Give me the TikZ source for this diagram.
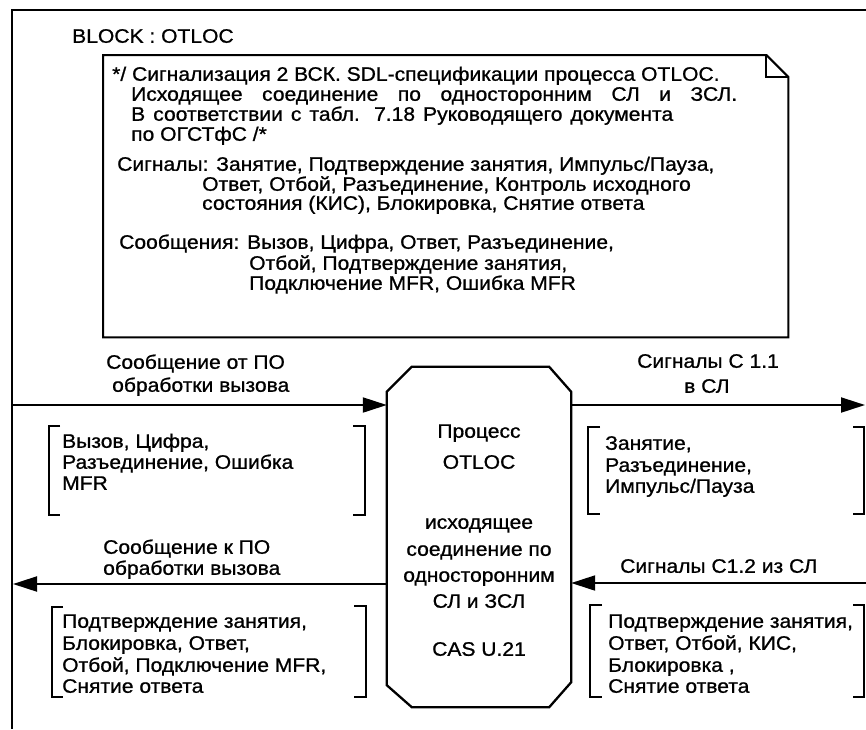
\documentclass[tikz,border=0pt]{standalone}
\usepackage{fontspec}
\setmainfont{Liberation Sans}[FakeStretch=1.08,FakeBold=0.9]
\usetikzlibrary{arrows.meta}
\begin{document}
\begin{tikzpicture}[x=1pt,y=-1pt,
  txt/.style={anchor=west, inner sep=0pt, text height=13.5pt, text depth=4pt, font=\fontsize{19.5}{21}\selectfont},
  ctxt/.style={txt, anchor=center},
  frame/.style={line width=2pt},
  arr/.style={line width=2pt, -{Triangle[length=24pt,width=15pt]}},
  brk/.style={line width=2pt}]
\useasboundingbox (0,0) rectangle (866,729);
% outer block frame
\coordinate (fTL) at (12,10);
\coordinate (fTR) at (866,10);
\coordinate (fBL) at (12,729);
\draw[frame] (fTR) -- (fTL) -- (fBL);
\node[txt] (blk) at (72,38) {BLOCK : OTLOC};
% comment box
\node[inner sep=0pt, minimum width=685pt, minimum height=282pt, anchor=north west] (note) at (103,55) {};
\draw[frame] (note.north west) -- ([xshift=-22pt]note.north east) -- ([yshift=-22pt]note.north east) -- (note.south east) -- (note.south west) -- cycle;
\draw[frame] ([xshift=-22pt]note.north east) -- ([xshift=-22pt,yshift=-22pt]note.north east) -- ([yshift=-22pt]note.north east);
\node[txt] (c1) at (112,76) {*/ Сигнализация 2 ВСК. SDL-спецификации процесса OTLOC.};
\node[txt] (c2) at (131,96) {\makebox[606pt][s]{Исходящее соединение по односторонним СЛ и ЗСЛ.}};
\node[txt] (c3) at (131,116) {\makebox[542pt][s]{В соответствии с табл. 7.18 Руководящего документа}};
\node[txt] (c4) at (131,136) {по ОГСТфС /*};
\node[txt] (c5) at (117,166) {Сигналы: Занятие, Подтверждение занятия, Импульс/Пауза,};
\node[txt] (c6) at (202,186) {Ответ, Отбой, Разъединение, Контроль исходного};
\node[txt] (c7) at (202,205) {состояния (КИС), Блокировка, Снятие ответа};
\node[txt] (c8) at (119,244) {Сообщения: Вызов, Цифра, Ответ, Разъединение,};
\node[txt] (c9) at (249,265) {Отбой, Подтверждение занятия,};
\node[txt] (c10) at (249,285) {Подключение MFR, Ошибка MFR};
% process octagon
\node[inner sep=0pt, minimum width=184pt, minimum height=340pt] (proc) at (479,537) {};
\draw[line width=2.3pt] ([xshift=25pt]proc.north west) -- ([xshift=-22pt]proc.north east) -- ([yshift=-25pt]proc.north east) -- ([yshift=25pt]proc.south east) -- ([xshift=-22pt]proc.south east) -- ([xshift=25pt]proc.south west) -- ([yshift=22pt]proc.south west) -- ([yshift=-25pt]proc.north west) -- cycle;
\node[ctxt] (p1) at (479,433) {Процесс};
\node[ctxt] (p2) at (479,464) {OTLOC};
\node[ctxt] (p3) at (479,524) {исходящее};
\node[ctxt] (p4) at (479,551) {соединение по};
\node[ctxt] (p5) at (479,577) {односторонним};
\node[ctxt] (p6) at (479,603) {СЛ и ЗСЛ};
\node[ctxt] (p7) at (479,651) {CAS U.21};
% connectors
\coordinate (inL) at (12,405);
\coordinate (outR) at (865,405);
\coordinate (outL) at (13,584);
\coordinate (inR) at (866,583);
\draw[arr] (inL) -- (proc.west |- inL);
\draw[arr] (proc.east |- outR) -- (outR);
\draw[arr] (proc.west |- outL) -- (outL);
\draw[arr] (inR) -- (proc.east |- inR);
% arrow labels
\node[txt] (l1a) at (106,364) {Сообщение от ПО};
\node[txt] (l1b) at (112,387) {обработки вызова};
\node[txt] (l2a) at (637,363) {Сигналы С 1.1};
\node[txt] (l2b) at (684,388) {в СЛ};
\node[txt] (l3a) at (103,549) {Сообщение к ПО};
\node[txt] (l3b) at (103,570) {обработки вызова};
\node[txt] (l4a) at (620,568) {Сигналы С1.2 из СЛ};
% bracket lists
\draw[brk] (60,426) -- (49,426) -- (49,515) -- (60,515);
\draw[brk] (353,426) -- (365,426) -- (365,515) -- (353,515);
\node[txt] (b1a) at (62,443) {Вызов, Цифра,};
\node[txt] (b1b) at (62,464) {Разъединение, Ошибка};
\node[txt] (b1c) at (62,485) {MFR};
\draw[brk] (600,427) -- (588,427) -- (588,514) -- (600,514);
\draw[brk] (853,427) -- (864,427) -- (864,514) -- (853,514);
\node[txt] (b2a) at (605,445) {Занятие,};
\node[txt] (b2b) at (605,467) {Разъединение,};
\node[txt] (b2c) at (605,488) {Импульс/Пауза};
\draw[brk] (63,607) -- (52,607) -- (52,697) -- (63,697);
\draw[brk] (354,606) -- (366,606) -- (366,697) -- (354,697);
\node[txt] (b3a) at (62,623) {Подтверждение занятия,};
\node[txt] (b3b) at (62,645) {Блокировка, Ответ,};
\node[txt] (b3c) at (62,667) {Отбой, Подключение MFR,};
\node[txt] (b3d) at (62,688) {Снятие ответа};
\draw[brk] (602,605) -- (590,605) -- (590,697) -- (602,697);
\draw[brk] (853,605) -- (864,605) -- (864,697) -- (853,697);
\node[txt] (b4a) at (608,623) {Подтверждение занятия,};
\node[txt] (b4b) at (608,645) {Ответ, Отбой, КИС,};
\node[txt] (b4c) at (608,667) {Блокировка ,};
\node[txt] (b4d) at (608,688) {Снятие ответа};
\end{tikzpicture}
\end{document}
